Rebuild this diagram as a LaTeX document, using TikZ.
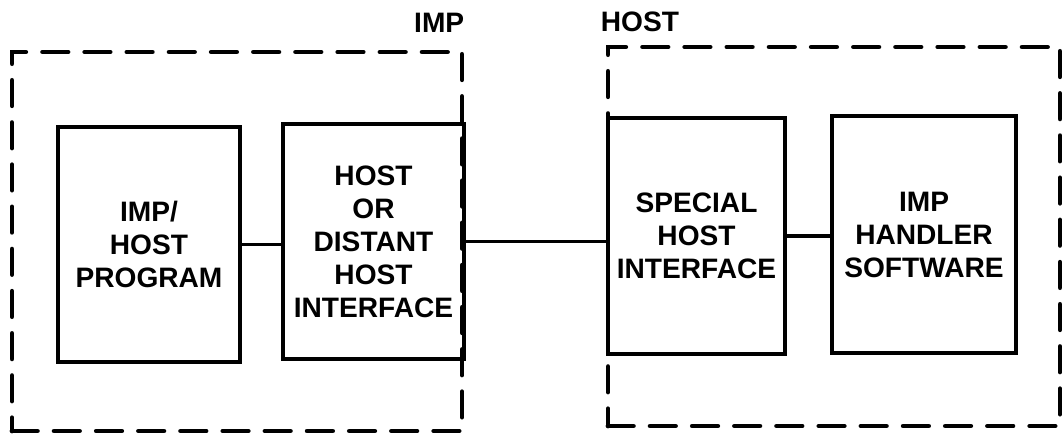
\documentclass[tikz,border=0pt]{standalone}
\usepackage{fontspec}
\setmainfont{Liberation Sans}
\usetikzlibrary{positioning}
\tikzset{
    imp diagram/.style = {font=\fontsize{20}{23.5}\selectfont\bfseries},
    line/.style        = {line width=2.5pt},
    block/.style       = {draw, line width=3.5pt, align=center,
                          inner sep=2pt},
    enclosure/.style   = {draw, line width=3.5pt, line cap=round,
                          dash pattern=on 18pt off 12pt, inner sep=0pt},
    tag/.style         = {font=\fontsize{20}{24}\selectfont\bfseries,
                          inner sep=0pt}
}

\begin{document}
\begin{tikzpicture}[imp diagram]
\useasboundingbox (0, 0) rectangle (26.575, -10.9);

% ================= IMP side =================
\node[enclosure, minimum width=11.25cm, minimum height=9.475cm]
    (impbox) at (5.925, -6.0375) {};
\node[tag, above left=0.425cm and 0cm of impbox.north east] (imptag) {IMP};

\node[block, minimum width=4.55cm, minimum height=5.875cm]
    (program) at (3.725, -6.1125) {IMP/\\HOST\\PROGRAM};
\node[block, minimum width=4.525cm, minimum height=5.875cm]
    (hostif) at (9.3375, -6.0375) {HOST\\OR\\DISTANT\\HOST\\INTERFACE};

% ================= HOST side =================
\node[enclosure, minimum width=11.3cm, minimum height=9.475cm]
    (hostbox) at (20.85, -5.9125) {};
\node[tag, above right=0.3cm and -0.125cm of hostbox.north west] (hosttag) {HOST};

\node[block, minimum width=4.425cm, minimum height=5.9cm]
    (special) at (17.4125, -5.9) {SPECIAL\\HOST\\INTERFACE};
\node[block, minimum width=4.6cm, minimum height=5.925cm]
    (handler) at (23.1, -5.8625) {IMP\\HANDLER\\SOFTWARE};

% ================= Connections =================
\draw[line] (program.east) -- (program.east -| hostif.west);
\draw[line] (hostif.east) -- (hostif.east -| special.west);
\draw[line] (special.east) -- (special.east -| handler.west);

\end{tikzpicture}
\end{document}
